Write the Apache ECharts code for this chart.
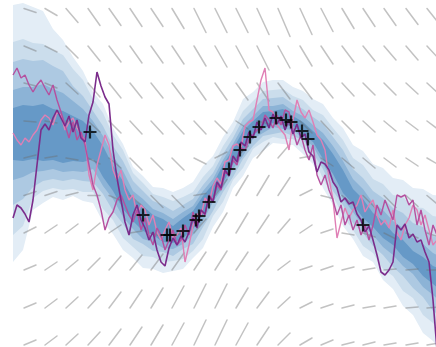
<!DOCTYPE html>
<html>
<head>
<meta charset="utf-8">
<script src="https://cdn.jsdelivr.net/npm/echarts@6.0.0/dist/echarts.min.js"></script>
<style>
  html, body { margin: 0; padding: 0; background: #ffffff; }
  #chart { width: 436px; height: 347px; }
</style>
</head>
<body>
<div id="chart"></div>
<script>
// ---- direction field: anchor columns / rows and the rise over one run ----
const SEG_X = [24, 45, 66, 88, 109, 130, 151, 172, 194, 215, 236, 257, 278, 300, 321, 342, 363, 384, 406, 427];
const SEG_Y = [8.5, 46, 83, 121, 158, 195.5, 233, 270, 308, 345];
const SEG_RISE = [
  [4, 7, 14, 17, 17, 18, 18, 20, 24, 24, 24, 26, 28, 26, 23, 20, 18, 17, 16, 15],
  [5, 6, 12, 15, 16, 17, 17, 18, 20, 21, 22, 24, 22, 20, 18, 16, 15, 14, 14, 13],
  [3, 5, 11, 14, 15, 15, 15, 16, 17, 17, 17, 18, 16, 16, 15, 13, 12, 12, 11, 11],
  [1, 2, 7, 11, 12, 13, 13, 13, 13, 12, 8, 3, 4, 12, 13, 12, 11, 10, 9, 9],
  [-3, -2, 2, 6, 10, 12, 12, 12, 6, -6, -12, -15, -14, -2, 8, 10, 10, 9, 8, 7],
  [-4, -4, -3, 0, 5, 10, 12, 12, -2, -16, -20, -20, -18, -6, 3, 10, 12, 12, 11, 10],
  [-6, -8, -9, -10, -8, -2, 4, 2, -14, -20, -20, -18, -14, -8, -4, 2, 4, 6, 5, 4],
  [-5, -8, -10, -12, -14, -15, -16, -17, -18, -19, -18, -15, -9, -4, -4, -3, -2, -1, -1, 0],
  [-5, -9, -11, -13, -16, -18, -20, -22, -24, -24, -20, -16, -11, -6, -4, -3, -2, -2, -1, -1],
  [-5, -9, -11, -13, -16, -18, -20, -22, -25, -25, -22, -18, -12, -7, -5, -3, -3, -2, -2, -2]
];

// ---- quantile bands, sampled every 10 units starting at 13 ----
const BAND_START = 13, BAND_STEP = 10;
const Q0_TOP = [5, 3, 7, 11, 29, 40, 57, 71, 92, 104, 128, 144, 167, 176, 187, 188, 192, 188, 182, 166, 156, 137, 122, 99, 92, 82, 80, 80, 87, 91, 99, 104, 118, 128, 145, 151, 164, 168, 178, 180, 188, 189, 195, 196];
const Q0_BOT = [262, 250, 210, 203, 197, 200, 196, 201, 203, 222, 234, 250, 258, 268, 269, 273, 271, 269, 258, 248, 227, 212, 188, 176, 158, 151, 143, 144, 145, 154, 164, 188, 205, 226, 239, 256, 262, 280, 289, 306, 315, 333, 341, 356];
const Q1_TOP = [42, 39, 43, 44, 50, 55, 69, 80, 99, 113, 135, 150, 173, 183, 194, 197, 201, 197, 192, 177, 166, 146, 131, 111, 101, 91, 90, 89, 96, 100, 110, 115, 128, 140, 158, 165, 179, 184, 195, 197, 207, 208, 216, 218];
const Q1_BOT = [235, 226, 198, 191, 188, 190, 189, 192, 192, 209, 220, 238, 247, 256, 257, 262, 261, 259, 251, 239, 216, 202, 180, 168, 149, 142, 137, 139, 139, 149, 156, 179, 196, 216, 230, 246, 253, 269, 276, 291, 298, 315, 323, 335];
const Q2_TOP = [62, 59, 61, 60, 66, 71, 86, 96, 111, 126, 146, 161, 181, 191, 201, 205, 211, 205, 199, 185, 173, 154, 138, 119, 109, 99, 98, 97, 104, 109, 117, 124, 137, 150, 169, 178, 191, 198, 208, 213, 223, 227, 236, 240];
const Q2_BOT = [205, 199, 187, 181, 179, 181, 179, 181, 182, 194, 211, 224, 239, 244, 251, 252, 256, 249, 244, 227, 211, 192, 177, 159, 146, 136, 134, 132, 136, 140, 153, 169, 191, 205, 223, 233, 246, 255, 267, 276, 288, 297, 311, 318];
const Q3_TOP = [90, 87, 87, 84, 89, 93, 101, 109, 121, 136, 156, 171, 191, 199, 209, 213, 219, 212, 206, 191, 179, 160, 144, 126, 116, 106, 106, 104, 111, 116, 125, 133, 146, 161, 179, 189, 203, 210, 221, 228, 238, 244, 253, 258];
const Q3_BOT = [180, 177, 172, 171, 169, 172, 171, 172, 169, 186, 199, 217, 229, 239, 242, 248, 249, 244, 235, 221, 202, 188, 169, 156, 139, 133, 127, 129, 130, 139, 146, 164, 181, 199, 212, 226, 235, 247, 255, 266, 274, 287, 295, 304];
const Q4_TOP = [108, 105, 106, 104, 109, 111, 116, 121, 131, 146, 166, 181, 199, 206, 215, 219, 226, 218, 211, 196, 184, 165, 149, 131, 121, 112, 111, 109, 116, 122, 131, 140, 154, 170, 189, 199, 213, 221, 233, 240, 251, 257, 266, 270];
const Q4_BOT = [160, 161, 159, 161, 160, 163, 161, 162, 159, 177, 191, 209, 221, 231, 235, 242, 243, 238, 229, 215, 197, 183, 164, 151, 135, 129, 123, 125, 126, 135, 142, 159, 174, 193, 204, 218, 227, 238, 245, 257, 264, 276, 284, 292];

// ---- sample paths, sampled every 4 units starting at 13 ----
const PATH_START = 13, PATH_STEP = 4;
const PATH_PURPLE = [
  218, 205, 208, 214, 222, 200, 165, 130, 124, 130,
  118, 110, 118, 126, 116, 132, 120, 138, 142, 115,
  102, 72, 86, 97, 104, 150, 178, 200, 222, 235,
  215, 205, 220, 228, 240, 232, 250, 262, 266, 248,
  238, 245, 236, 242, 232, 218, 228, 210, 214, 196,
  202, 182, 188, 170, 176, 156, 162, 142, 146, 132,
  138, 122, 130, 118, 128, 114, 124, 116, 130, 120,
  134, 124, 138, 134, 152, 156, 172, 162, 164, 170,
  182, 188, 202, 198, 204, 202, 214, 220, 232, 226,
  240, 255, 272, 275, 270, 262, 225, 230, 224, 238,
  234, 242, 240, 252, 262, 300, 350
];
const PATH_MAGENTA = [
  75, 68, 78, 75, 85, 92, 85, 80, 88, 95,
  85, 100, 112, 125, 138, 122, 140, 132, 145, 165,
  185, 195, 210, 230, 218, 212, 200, 195, 205, 215,
  222, 210, 230, 218, 235, 245, 228, 235, 250, 240,
  230, 245, 240, 225, 235, 212, 225, 210, 215, 195,
  200, 185, 190, 172, 175, 160, 165, 148, 150, 140,
  135, 130, 128, 115, 120, 128, 115, 125, 110, 112,
  130, 145, 135, 150, 160, 145, 175, 185, 175, 190,
  200, 215, 205, 225, 215, 230, 220, 235, 225, 240,
  225, 205, 215, 200, 210, 220, 195, 197, 195, 205,
  200, 225, 210, 230, 245, 225, 235
];
const PATH_PINK = [
  133, 140, 145, 138, 142, 135, 130, 120, 115, 118,
  125, 112, 115, 130, 122, 118, 128, 135, 140, 175,
  190, 165, 150, 135, 145, 170, 180, 170, 190, 200,
  195, 215, 205, 210, 225, 215, 232, 240, 230, 222,
  238, 235, 228, 262, 245, 226, 214, 216, 198, 204,
  186, 178, 184, 162, 160, 146, 144, 148, 126, 122,
  120, 100, 80, 68, 110, 112, 125, 130, 135, 150,
  120, 100, 112, 118, 110, 122, 135, 140, 150, 178,
  200, 238, 222, 208, 218, 210, 205, 195, 212, 205,
  200, 215, 225, 220, 228, 210, 232, 240, 225, 218,
  205, 210, 225, 215, 230, 245, 240
];

// ---- observations ----
const OBS_X = [90, 143, 167, 170, 183, 196, 199, 209, 229, 240, 250, 259, 276, 286, 291, 302, 308, 363];
const OBS_Y = [132, 215, 235, 235, 231, 220, 216, 202, 169, 150, 137, 127, 118, 120, 122, 131, 139, 225];

// ---------------------------------------------------------------
const BANDS = [
  { top: Q0_TOP, bot: Q0_BOT, color: '#e3edf6' },
  { top: Q1_TOP, bot: Q1_BOT, color: '#cbddec' },
  { top: Q2_TOP, bot: Q2_BOT, color: '#adc9e2' },
  { top: Q3_TOP, bot: Q3_BOT, color: '#8cb3d6' },
  { top: Q4_TOP, bot: Q4_BOT, color: '#6699c7' }
];
const bandX = i => BAND_START + BAND_STEP * i;
const pathPairs = arr => arr.map((v, i) => [PATH_START + PATH_STEP * i, v]);

const segData = [];
SEG_Y.forEach((gy, r) => SEG_X.forEach((gx, c) => segData.push([gx, gy, SEG_RISE[r][c]])));
const SEG_RUN = 12;

const plusPath = 'path://M5.4,0h2.2v13h-2.2zM0,5.4h13v2.2h-13z';

const chart = echarts.init(document.getElementById('chart'), null, { renderer: 'canvas' });
chart.setOption({
  animation: false,
  backgroundColor: '#ffffff',
  grid: { left: 0, right: 0, top: 0, bottom: 0 },
  xAxis: { type: 'value', min: 0, max: 436, show: false },
  yAxis: { type: 'value', min: 0, max: 347, inverse: true, show: false },
  series: [
    {
      type: 'custom',
      name: 'bands',
      silent: true,
      clip: true,
      z: 1,
      data: BANDS.map((b, i) => [i, 0]),
      renderItem: (params, api) => {
        const b = BANDS[api.value(0)];
        const pts = [];
        for (let i = 0; i < b.top.length; i++) pts.push(api.coord([bandX(i), b.top[i]]));
        for (let i = b.bot.length - 1; i >= 0; i--) pts.push(api.coord([bandX(i), b.bot[i]]));
        return { type: 'polygon', shape: { points: pts }, style: { fill: b.color } };
      }
    },
    {
      type: 'custom',
      name: 'field',
      silent: true,
      clip: true,
      z: 2,
      data: segData,
      renderItem: (params, api) => {
        const x = api.value(0), y = api.value(1), d = api.value(2);
        const a = api.coord([x, y]);
        const b = api.coord([x + SEG_RUN, y + d]);
        return {
          type: 'line',
          shape: { x1: a[0], y1: a[1], x2: b[0], y2: b[1] },
          style: { stroke: 'rgba(110,110,110,0.42)', lineWidth: 1.5, lineCap: 'round' }
        };
      }
    },
    {
      type: 'line', name: 'pink', data: pathPairs(PATH_PINK), z: 3,
      showSymbol: false, silent: true, clip: true,
      lineStyle: { color: '#e07fb5', width: 1.4 }
    },
    {
      type: 'line', name: 'magenta', data: pathPairs(PATH_MAGENTA), z: 4,
      showSymbol: false, silent: true, clip: true,
      lineStyle: { color: '#b5509f', width: 1.4 }
    },
    {
      type: 'line', name: 'purple', data: pathPairs(PATH_PURPLE), z: 5,
      showSymbol: false, silent: true, clip: true,
      lineStyle: { color: '#7b2c8b', width: 1.6 }
    },
    {
      type: 'scatter', name: 'observations', z: 6, silent: true,
      data: OBS_X.map((x, i) => [x, OBS_Y[i]]),
      symbol: plusPath, symbolSize: 13,
      itemStyle: { color: '#000000' }
    }
  ]
});
</script>
</body>
</html>
